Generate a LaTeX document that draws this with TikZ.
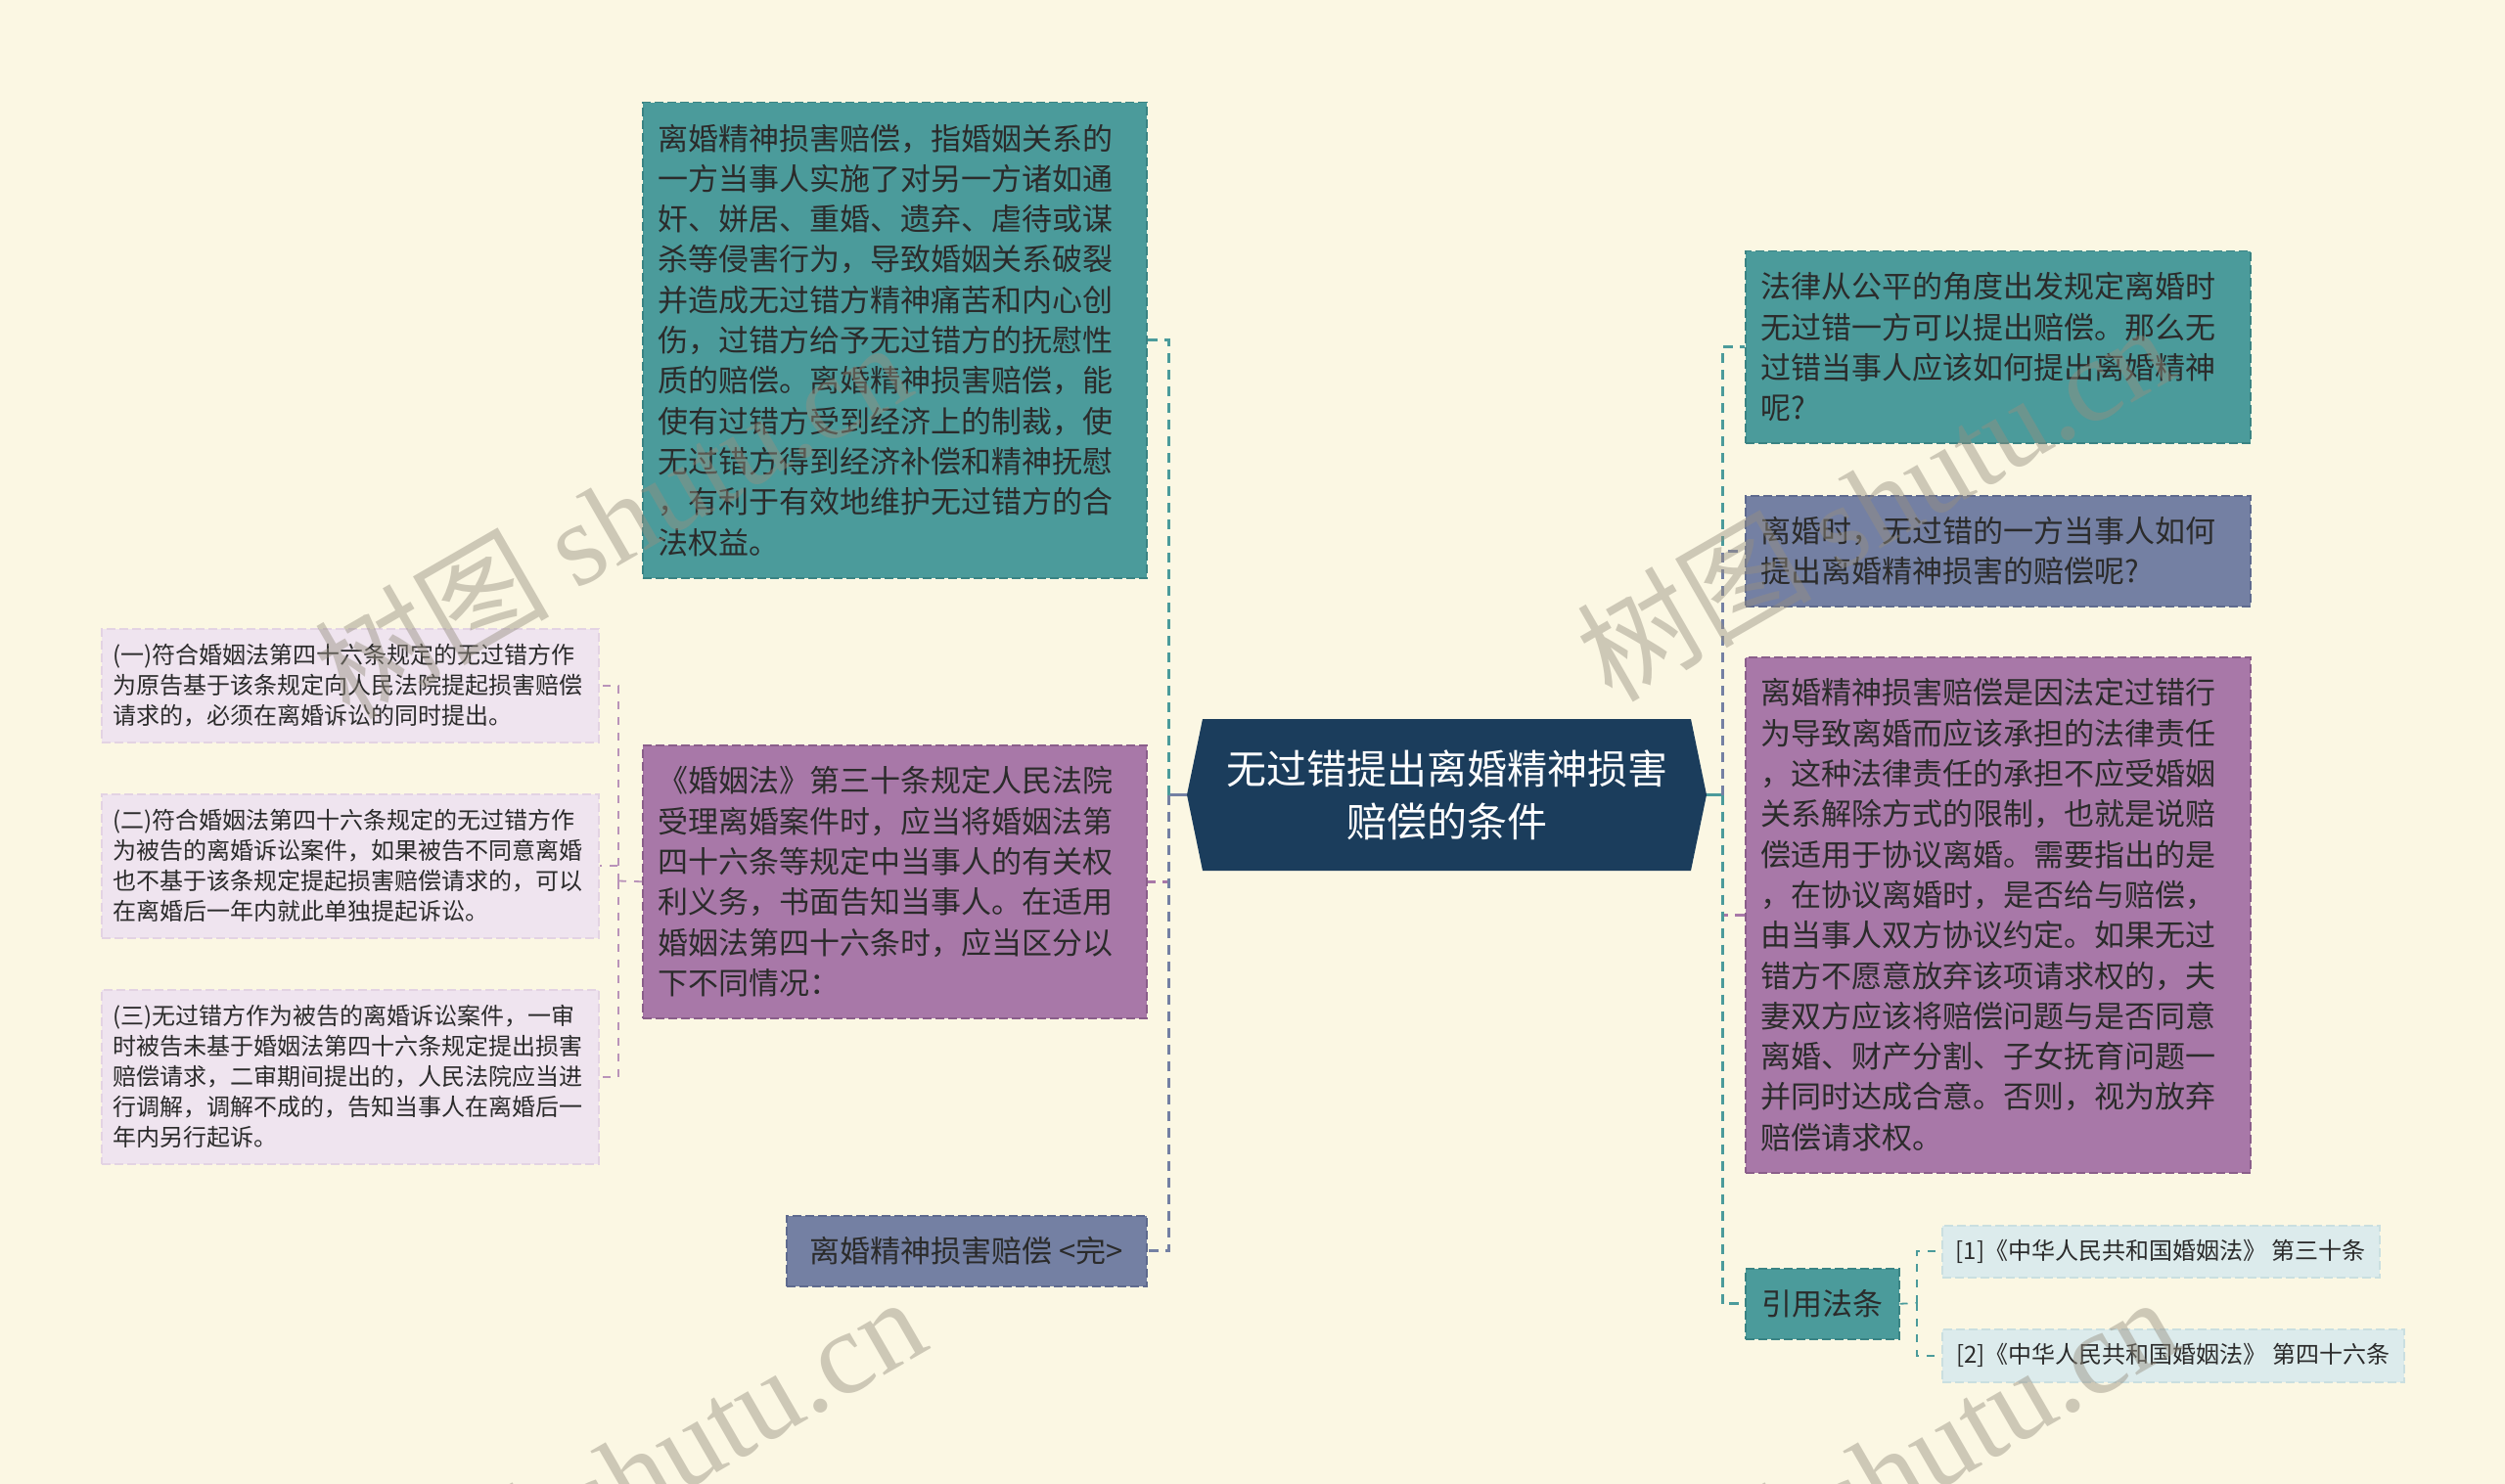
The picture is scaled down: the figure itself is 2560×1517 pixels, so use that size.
\documentclass[tikz,border=0pt]{standalone}
\usepackage{fontspec}
\setmainfont{Noto Sans CJK SC}
\newfontfamily\wmlatin{Liberation Serif}
\usetikzlibrary{positioning}

\definecolor{paper}{HTML}{FBF7E3}
\definecolor{navy}{HTML}{1B3D5C}
\definecolor{teal1}{HTML}{4B9B9B}
\definecolor{teal2}{HTML}{3A8383}
\definecolor{plum1}{HTML}{A878A8}
\definecolor{plum2}{HTML}{8A5E8A}
\definecolor{slate1}{HTML}{7480A3}
\definecolor{slate2}{HTML}{5E6A8E}
\definecolor{lilac1}{HTML}{EFE4EF}
\definecolor{lilac2}{HTML}{E3D3E3}
\definecolor{ice1}{HTML}{DCEBEC}
\definecolor{ice2}{HTML}{CADFE0}
\definecolor{ink}{HTML}{2B2B2B}
\definecolor{wmark}{HTML}{968F80}

\newcommand\bigtxt{\fontsize{31}{41.3}\selectfont}
\newcommand\smalltxt{\fontsize{24}{31}\selectfont}
\newcommand\citetxt{\fontsize{24}{30}\selectfont}

\tikzset{
  card/.style={draw, dash pattern=on 9pt off 4pt, line width=1.5pt, inner xsep=16pt,
    inner ysep=0pt, align=left, text=ink, font=\bigtxt, anchor=north west},
  tealcard/.style={card, fill=teal1, draw=teal2},
  plumcard/.style={card, fill=plum1, draw=plum2},
  slatecard/.style={card, fill=slate1, draw=slate2},
  lilaccard/.style={card, fill=lilac1, draw=lilac2, inner xsep=12pt, font=\smalltxt},
  icecard/.style={card, fill=ice1, draw=ice2, inner xsep=12pt, font=\citetxt},
  link/.style={line width=3pt, dash pattern=on 10pt off 7pt},
  stub/.style={line width=3pt},
  twig/.style={line width=1.8pt, dash pattern=on 8pt off 8pt},
  wm/.style={text=wmark, opacity=.45, rotate=30, inner sep=0pt,
    font=\fontsize{120}{120}\selectfont}
}

\begin{document}
\begin{tikzpicture}[x=1pt,y=-1pt]
\useasboundingbox (0,0) rectangle (2560,1517);
\clip (0,0) rectangle (2560,1517);
\fill[paper] (0,0) rectangle (2560,1517);

% root
\coordinate (rootc) at (1478.5,812.5);
\fill[navy] ([xshift=-265.5pt]rootc) -- ++(16,-77.5) -- ++(499,0) -- ++(16,77.5)
  -- ++(-16,77.5) -- ++(-499,0) -- cycle;
\node[minimum width=531pt, minimum height=155pt, inner sep=0pt, align=center,
  text=white, font=\fontsize{41}{54}\selectfont] (root) at (rootc)
  {无过错提出离婚精神损害\\赔偿的条件};

% left side
\node[tealcard, text width=483pt, minimum height=486pt] (defn) at (656,104)
  {离婚精神损害赔偿，指婚姻关系的\\一方当事人实施了对另一方诸如通\\奸、姘居、重婚、遗弃、虐待或谋\\杀等侵害行为，导致婚姻关系破裂\\并造成无过错方精神痛苦和内心创\\伤，过错方给予无过错方的抚慰性\\质的赔偿。离婚精神损害赔偿，能\\使有过错方受到经济上的制裁，使\\无过错方得到经济补偿和精神抚慰\\，有利于有效地维护无过错方的合\\法权益。};
\node[plumcard, text width=483pt, minimum height=279pt] (law30) at (656,761)
  {《婚姻法》第三十条规定人民法院\\受理离婚案件时，应当将婚姻法第\\四十六条等规定中当事人的有关权\\利义务，书面告知当事人。在适用\\婚姻法第四十六条时，应当区分以\\下不同情况：};
\node[slatecard, minimum width=368pt, minimum height=72pt] (fin) at (803,1242)
  {离婚精神损害赔偿 <完>};

\node[lilaccard, text width=484pt, minimum height=116pt] (case1) at (103,642)
  {(一)符合婚姻法第四十六条规定的无过错方作\\为原告基于该条规定向人民法院提起损害赔偿\\请求的，必须在离婚诉讼的同时提出。};
\node[lilaccard, text width=484pt, minimum height=147pt] (case2) at (103,811)
  {(二)符合婚姻法第四十六条规定的无过错方作\\为被告的离婚诉讼案件，如果被告不同意离婚\\也不基于该条规定提起损害赔偿请求的，可以\\在离婚后一年内就此单独提起诉讼。};
\node[lilaccard, text width=484pt, minimum height=178pt] (case3) at (103,1011)
  {(三)无过错方作为被告的离婚诉讼案件，一审\\时被告未基于婚姻法第四十六条规定提出损害\\赔偿请求，二审期间提出的，人民法院应当进\\行调解，调解不成的，告知当事人在离婚后一\\年内另行起诉。};

% right side
\node[tealcard, text width=484pt, minimum height=196pt] (q1) at (1783,256)
  {法律从公平的角度出发规定离婚时\\无过错一方可以提出赔偿。那么无\\过错当事人应该如何提出离婚精神\\呢?};
\node[slatecard, text width=484pt, minimum height=113pt] (q2) at (1783,506)
  {离婚时，无过错的一方当事人如何\\提出离婚精神损害的赔偿呢?};
\node[plumcard, text width=484pt, minimum height=527pt] (expl) at (1783,671)
  {离婚精神损害赔偿是因法定过错行\\为导致离婚而应该承担的法律责任\\，这种法律责任的承担不应受婚姻\\关系解除方式的限制，也就是说赔\\偿适用于协议离婚。需要指出的是\\，在协议离婚时，是否给与赔偿，\\由当事人双方协议约定。如果无过\\错方不愿意放弃该项请求权的，夫\\妻双方应该将赔偿问题与是否同意\\离婚、财产分割、子女抚育问题一\\并同时达成合意。否则，视为放弃\\赔偿请求权。};
\node[tealcard, minimum width=157pt, minimum height=72pt] (cite) at (1783,1296)
  {引用法条};
\node[icecard, minimum width=447pt, minimum height=53pt] (cite1) at (1984,1252)
  {[1]《中华人民共和国婚姻法》 第三十条};
\node[icecard, minimum width=472pt, minimum height=54pt] (cite2) at (1984,1358)
  {[2]《中华人民共和国婚姻法》 第四十六条};

% connectors
\coordinate (lhub) at (1194,812.5);
\coordinate (rhub) at (1760,812.5);
\coordinate (lawhub) at (632,900.5);
\coordinate (citehub) at (1959,1332);

\draw[stub, slate1] (root.west) -- (lhub);
\draw[link, teal1] (lhub) |- (defn.east);
\draw[link, plum1] (lhub) |- (law30.east);
\draw[link, slate1] (lhub) |- (fin.east);

\draw[stub, teal1] (root.east) -- (rhub);
\draw[link, teal1] (rhub) |- (q1.west);
\draw[link, slate1] (rhub) |- (q2.west);
\draw[link, plum1] (rhub) |- (expl.west);
\draw[link, teal1] (rhub) |- (cite.west);

\draw[twig, plum1!80] (law30.west) -- (lawhub);
\draw[twig, plum1!80] (lawhub) |- (case1.east);
\draw[twig, plum1!80] (lawhub) |- (case2.east);
\draw[twig, plum1!80] (lawhub) |- (case3.east);

\draw[twig, teal1] (cite.east) -- (citehub);
\draw[twig, teal1] (citehub) |- (cite1.west);
\draw[twig, teal1] (citehub) |- (cite2.west);

% watermarks
\node[wm] (wm1) at (625,530) {树图 {\wmlatin shutu.cn}};
\node[wm] (wm2) at (1915,512) {树图 {\wmlatin shutu.cn}};
\node[wm] (wm3) at (640,1506) {树图 {\wmlatin shutu.cn}};
\node[wm] (wm4) at (1920,1506) {树图 {\wmlatin shutu.cn}};
\end{tikzpicture}
\end{document}
